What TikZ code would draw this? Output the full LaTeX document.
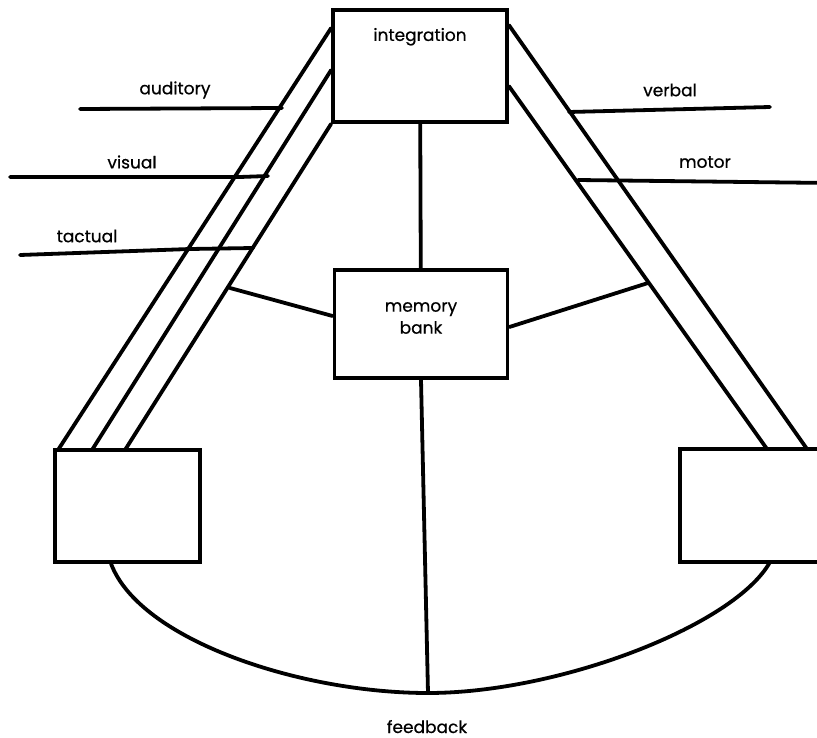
\documentclass[tikz,border=0pt]{standalone}
\usepackage{fontspec}
\setmainfont{Poppins}
\newfontfamily\diagfont{Poppins}[FakeBold=0.6]
\usetikzlibrary{calc}

\begin{document}
\begin{tikzpicture}[x=1pt, y=-1pt, line width=3.8pt, line cap=round, line join=round,
    box/.style={draw, rectangle, inner sep=0pt, line join=miter},
    lbl/.style={font=\diagfont\fontsize{17}{22}\selectfont, inner sep=1pt}]
    \useasboundingbox (0,0) rectangle (817,738);
    \clip (0,0) rectangle (817,738);
    \node[box, minimum width=174pt, minimum height=112pt,
        label={[lbl, anchor=north, yshift=-17pt]north:integration}] (integ) at (420,66) {};
    \node[box, minimum width=173pt, minimum height=108pt,
        label={[lbl, align=center, yshift=6pt]center:memory\\bank}] (memory) at (421,324) {};
    \node[box, minimum width=145pt, minimum height=112pt] (lbox) at (127.5,506) {};
    \node[box, minimum width=150pt, minimum height=113pt] (rbox) at (755,505.5) {};
    \coordinate (fb) at (428,693);
    \draw (integ) -- (memory);
    \draw (memory.south) -- (fb);
    \draw (lbox.south west) ++(58,0) .. controls (140,640) and (300,693) .. (fb)
        .. controls (560,693) and (735,625) .. (770,562);
    \draw (integ.north west) ++(0,20) -- (58,450);
    \draw (integ.north west) ++(0,62) -- (92,450);
    \draw (integ.south west) -- (125,450);
    \draw (integ.north east) ++(0,17) -- (807,449);
    \draw (integ.north east) ++(0,78) -- (767,449);
    \draw (230,288) -- (memory.west |- 0,316);
    \draw (memory.east |- 0,327) -- (648,283);
    \node[lbl] (aud) at (175,90) {auditory};
    \node[lbl] (vis) at (132,162) {visual};
    \node[lbl] (tac) at (87,236) {tactual};
    \node[lbl] (verb) at (670,90) {verbal};
    \node[lbl] (mot) at (705,162) {motor};
    \node[lbl, anchor=base] (feed) at (427,733) {feedback};
    \coordinate (audin) at (80,109);
    \coordinate (visin) at (10,177);
    \coordinate (tacin) at (20,255);
    \coordinate (verbout) at (770,107);
    \coordinate (motout) at (830,183);
    \draw (audin) -- (282,108);
    \draw (visin) -- (240,177) -- (268,176);
    \draw (tacin) -- (190,249) -- (253,248);
    \draw (569,112) -- (verbout);
    \draw (578,180) -- (motout);
\end{tikzpicture}
\end{document}
